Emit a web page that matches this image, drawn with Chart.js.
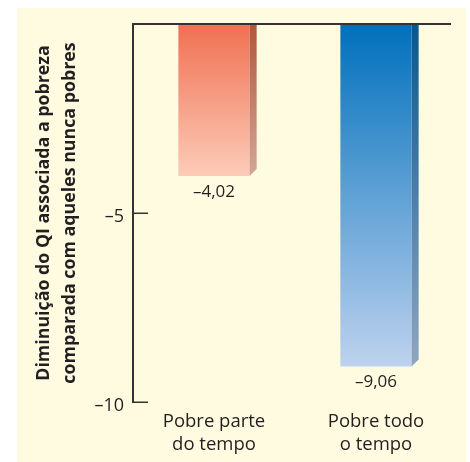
<!DOCTYPE html>
<html>
<head>
<meta charset="utf-8">
<script src="https://cdn.jsdelivr.net/npm/chart.js@4"></script>
<style>
  html, body { margin: 0; padding: 0; background: #ffffff; }
  #wrap { position: relative; width: 470px; height: 462px; }
</style>
</head>
<body>
<div id="wrap"><canvas id="c" width="470" height="462"></canvas></div>
<script>
// Categories (two-line labels) and the IQ drop for each group
const categories = [['Pobre parte', 'do tempo'], ['Pobre todo', 'o tempo']];
const iqDrop = [-4.02, -9.06];
const yTickValues = [-10, -5, 0];
const yTitle = ['Diminuição do QI associada a pobreza', 'comparada com aqueles nunca pobres'];

// Bar shading: front face and the darker side face, top -> bottom
const frontTop = ['#f07052', '#0070bc'];
const frontBottom = ['#fccbb8', '#bed2ee'];
const sideTop = ['#b0573b', '#065792'];
const sideBottom = ['#d2a697', '#90a6c2'];

const FONT = "'Open Sans', 'Noto Sans', sans-serif";
const INK = '#231f20';
const fmt = v => (v < 0 ? '\u2013' : '') + Math.abs(v).toFixed(2).replace('.', ',');

// Cream panel behind the chart
const panel = {
  id: 'panel',
  beforeDraw(chart) {
    const { ctx } = chart;
    ctx.save();
    ctx.fillStyle = '#fefbe0';
    ctx.fillRect(17, 8, chart.width - 21, chart.height - 8);
    ctx.restore();
  }
};

// Side faces of the bars, zero line, inward ticks and value labels
const decorations = {
  id: 'decorations',
  afterDatasetsDraw(chart) {
    const { ctx, chartArea, scales } = chart;
    const meta = chart.getDatasetMeta(0);
    const depth = 7;
    ctx.save();
    meta.data.forEach((bar, i) => {
      const right = bar.x + bar.width / 2;
      const top = Math.min(bar.y, bar.base);
      const bottom = Math.max(bar.y, bar.base);
      const g = ctx.createLinearGradient(0, top, 0, bottom);
      g.addColorStop(0, sideTop[i]);
      g.addColorStop(1, sideBottom[i]);
      ctx.fillStyle = g;
      ctx.beginPath();
      ctx.moveTo(right, top);
      ctx.lineTo(right + depth, top);
      ctx.lineTo(right + depth, bottom - depth);
      ctx.lineTo(right, bottom);
      ctx.closePath();
      ctx.fill();

      ctx.fillStyle = INK;
      ctx.font = '17px ' + FONT;
      ctx.textAlign = 'center';
      ctx.textBaseline = 'middle';
      ctx.fillText(fmt(iqDrop[i]), bar.x, bottom + 16);
    });

    // zero line across the top
    const y0 = scales.y.getPixelForValue(0);
    ctx.strokeStyle = '#333333';
    ctx.lineWidth = 2;
    ctx.beginPath();
    ctx.moveTo(chartArea.left - 1, y0);
    ctx.lineTo(chartArea.right - 6, y0);
    ctx.stroke();

    // short tick marks pointing into the plot
    ctx.lineWidth = 1.5;
    yTickValues.filter(v => v !== 0).forEach(v => {
      const y = Math.round(scales.y.getPixelForValue(v)) + 0.25;
      ctx.beginPath();
      ctx.moveTo(chartArea.left, y);
      ctx.lineTo(chartArea.left + 15, y);
      ctx.stroke();
    });
    ctx.restore();
  }
};

function barGradient(ctx) {
  const chart = ctx.chart;
  const i = ctx.dataIndex;
  const y = chart.scales && chart.scales.y;
  if (!y || !chart.chartArea) return frontTop[i];
  const top = y.getPixelForValue(0);
  const bottom = y.getPixelForValue(iqDrop[i]);
  const g = chart.ctx.createLinearGradient(0, top, 0, bottom);
  g.addColorStop(0, frontTop[i]);
  g.addColorStop(1, frontBottom[i]);
  return g;
}

new Chart(document.getElementById('c'), {
  type: 'bar',
  data: {
    labels: categories,
    datasets: [{
      data: iqDrop,
      backgroundColor: barGradient,
      borderWidth: 0,
      barPercentage: 0.44,
      categoryPercentage: 1
    }]
  },
  options: {
    responsive: false,
    devicePixelRatio: 1,
    animation: false,
    layout: { padding: { top: 24, right: 13, left: 0, bottom: 0 } },
    plugins: { legend: { display: false }, tooltip: { enabled: false } },
    scales: {
      y: {
        min: -10,
        max: 0,
        afterBuildTicks: s => { s.ticks = yTickValues.map(v => ({ value: v })); },
        afterFit: s => { s.width = 133; },
        grid: { display: false, drawTicks: false },
        border: { display: true, color: '#333333', width: 2 },
        ticks: {
          callback: v => (v === 0 ? '' : '\u2013' + Math.abs(v)),
          font: { family: FONT, size: 18 },
          color: INK,
          padding: 9,
          labelOffset: 4
        },
        title: {
          display: true,
          text: yTitle,
          color: INK,
          font: { family: FONT, size: 17.8, weight: 'bold', lineHeight: 1.46 },
          padding: { top: 31, bottom: 0 }
        }
      },
      x: {
        offset: true,
        afterFit: s => { s.height = 60; },
        grid: { display: false, drawTicks: false },
        border: { display: false },
        ticks: {
          font: { family: FONT, size: 18.5, lineHeight: 1.24 },
          color: INK,
          padding: 8,
          maxRotation: 0
        }
      }
    }
  },
  plugins: [panel, decorations]
});
</script>
</body>
</html>
